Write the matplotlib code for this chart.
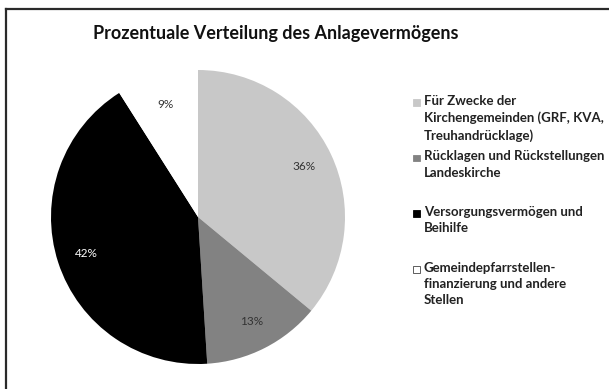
import matplotlib.pyplot as plt
from matplotlib.patches import Rectangle
from matplotlib.lines import Line2D

# Anteile des Anlagevermögens in Prozent
labels = [
    "Für Zwecke der\nKirchengemeinden (GRF, KVA,\nTreuhandrücklage)",
    "Rücklagen und Rückstellungen\nLandeskirche",
    "Versorgungsvermögen und\nBeihilfe",
    "Gemeindepfarrstellen-\nfinanzierung und andere\nStellen",
]
values = [36, 13, 42, 9]
colors = ["#c8c8c8", "#828282", "#000000", "#ffffff"]
pct_colors = ["#333333", "#333333", "#ffffff", "#333333"]

plt.rcParams["font.family"] = ["Lato", "DejaVu Sans"]

fig = plt.figure(figsize=(6.09, 3.89), dpi=100)

# Rahmen oben und links
fig.add_artist(Line2D([5.5 / 609, 1], [1 - 9 / 389, 1 - 9 / 389], color="#2a2a2a", lw=1.6))
fig.add_artist(Line2D([5.5 / 609, 5.5 / 609], [0, 1 - 9 / 389], color="#2a2a2a", lw=1.6))

fig.text(276 / 609, 1 - 33 / 389, "Prozentuale Verteilung des Anlagevermögens",
         ha="center", va="center", fontsize=13, fontweight="bold", color="#111111")

ax = fig.add_axes([51 / 609, 25 / 389, 294 / 609, 294 / 389])
wedges, texts, autotexts = ax.pie(values, colors=colors, startangle=90, counterclock=False,
                                  autopct="%d%%", pctdistance=0.8,
                                  textprops={"fontsize": 8.5})
for t, c in zip(autotexts, pct_colors):
    t.set_color(c)
ax.set_xlim(-1, 1)
ax.set_ylim(-1, 1)
ax.set_aspect("equal")
ax.axis("off")

# Legende rechts, jeder Eintrag belegt drei Zeilen
y0 = 102
step = 55.5
for i, (lab, col) in enumerate(zip(labels, colors)):
    y = y0 + i * step
    fig.add_artist(Rectangle((413 / 609, 1 - (y + 4) / 389), 7 / 609, 7 / 389,
                             facecolor=col, edgecolor="#444444" if col == "#ffffff" else col,
                             lw=0.6, transform=fig.transFigure))
    fig.text(424 / 609, 1 - (y - 7) / 389, lab, ha="left", va="top", fontsize=9.5,
             fontweight="bold", color="#222222", linespacing=1.45)

fig.savefig("out.png", dpi=100, facecolor="white")
